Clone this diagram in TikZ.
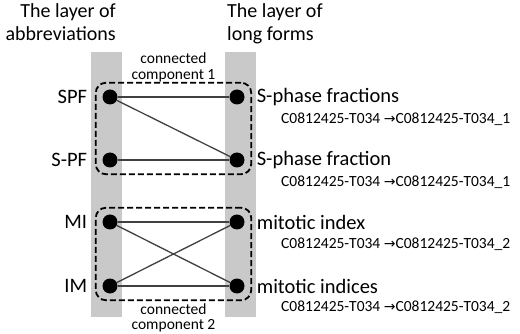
\documentclass[tikz,border=0pt]{standalone}
\usepackage{fontspec}
\setmainfont{Carlito}
\newfontfamily\arrowfont{DejaVu Sans}
\usetikzlibrary{positioning, fit}

\newcommand{\maparrow}{{\arrowfont\fontsize{14}{14}\selectfont →}}

\begin{document}
\begin{tikzpicture}[x=1pt, y=-1pt,
    dot/.style={circle, fill=black, inner sep=0pt, minimum size=15pt},
    abbr/.style={inner sep=0pt, font=\fontsize{20.5}{23}\selectfont},
    longform/.style={inner sep=0pt, font=\fontsize{20.5}{23}\selectfont},
    idmap/.style={inner sep=0pt, anchor=west, font=\fontsize{15.5}{18}\selectfont},
    header/.style={inner sep=0pt, font=\fontsize{20}{23}\selectfont},
    comp/.style={draw, dashed, line width=1.8pt, dash pattern=on 6pt off 3pt,
                 rounded corners=10pt, inner sep=6.5pt},
    complabel/.style={inner sep=0pt, align=center, font=\fontsize{15.5}{15.5}\selectfont},
    link/.style={draw=black!75, line width=1.3pt}]
  \useasboundingbox (0,0) rectangle (520,334);
  % layers
  \fill[black!21] (91,52) rectangle (122,317);
  \fill[black!21] (225,52) rectangle (256,317);
  \node[header, align=right, anchor=north east] (hleft) at (116,3) {The layer of\\abbreviations};
  \node[header, align=left, anchor=north west] (hright) at (227,3) {The layer of\\long forms};
  % abbreviations
  \node[dot] (spf) at (110,97) {};
  \node[dot] (s-pf) at (110,160) {};
  \node[dot] (mi) at (110,222) {};
  \node[dot] (im) at (110,286) {};
  \node[abbr, left=15pt of spf] {SPF};
  \node[abbr, left=15pt of s-pf] {S-PF};
  \node[abbr, left=15pt of mi] {MI};
  \node[abbr, left=15pt of im] {IM};
  % long forms
  \node[dot] (lf1) at (237,97) {};
  \node[dot] (lf2) at (237,160) {};
  \node[dot] (lf3) at (237,222) {};
  \node[dot] (lf4) at (237,286) {};
  \node[longform, right=12pt of lf1] {S-phase fractions};
  \node[longform, right=12pt of lf2] {S-phase fraction};
  \node[longform, right=12pt of lf3] {mitotic index};
  \node[longform, right=12pt of lf4] {mitotic indices};
  \node[idmap] at (281,119) {C0812425-T034 \maparrow C0812425-T034\_1};
  \node[idmap] at (281,182) {C0812425-T034 \maparrow C0812425-T034\_1};
  \node[idmap] at (281,244) {C0812425-T034 \maparrow C0812425-T034\_2};
  \node[idmap] at (281,307) {C0812425-T034 \maparrow C0812425-T034\_2};
  % edges
  \draw[link] (spf) -- (lf1);
  \draw[link] (spf) -- (lf2);
  \draw[link] (s-pf) -- (lf2);
  \draw[link] (mi) -- (lf3);
  \draw[link] (mi) -- (lf4);
  \draw[link] (im) -- (lf3);
  \draw[link] (im) -- (lf4);
  % connected components
  \node[comp, fit=(spf) (lf2)] (cc1) {};
  \node[comp, fit=(mi) (lf4)] (cc2) {};
  \node[complabel, above=0pt of cc1] {connected\\component 1};
  \node[complabel, below=2pt of cc2] {connected\\component 2};
\end{tikzpicture}
\end{document}
